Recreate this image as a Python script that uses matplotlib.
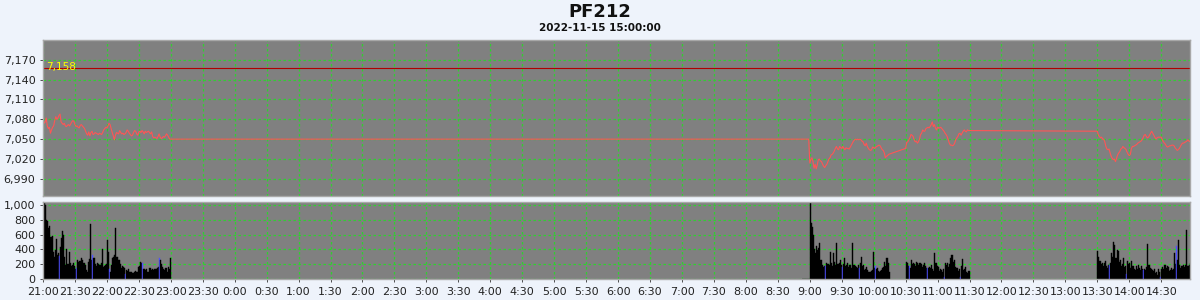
import matplotlib
matplotlib.use("Agg")
import matplotlib.pyplot as plt
import numpy as np

BG = "#eef3fb"
PANEL = "#808080"
GRID = "#30d030"
PRICE_RED = "#ff5555"
REF_RED = "#b00000"
BLUE = "#5050ff"
EDGE = "#a8a8a8"

TITLE = "PF212"
SUBTITLE = "2022-11-15 15:00:00"
PREV_CLOSE = 7158

# session starts, minutes after 21:00
NIGHT_START = 0
PRE_START = 713      # 8:53
AM1_START = 720      # 9:00
AM2_START = 810      # 10:30
PM_START = 990       # 13:30

night_price = [
    7080, 7074, 7076, 7082, 7070, 7066, 7068, 7059, 7064, 7068,
    7070, 7078, 7084, 7080, 7082, 7086, 7088, 7076, 7074, 7072,
    7074, 7070, 7069, 7071, 7072, 7070, 7073, 7076, 7078, 7077,
    7072, 7069, 7070, 7068, 7067, 7071, 7072, 7070, 7068, 7066,
    7062, 7058, 7056, 7061, 7055, 7060, 7062, 7057, 7058, 7060,
    7059, 7058, 7057, 7059, 7058, 7057, 7060, 7064, 7066, 7068,
    7067, 7070, 7074, 7072, 7066, 7060, 7055, 7049, 7056, 7060,
    7059, 7058, 7063, 7060, 7058, 7059, 7057, 7058, 7060, 7064,
    7062, 7059, 7057, 7055, 7056, 7060, 7063, 7062, 7058, 7056,
    7061, 7062, 7060, 7063, 7061, 7058, 7062, 7060, 7061, 7062,
    7060, 7058, 7061, 7054, 7052, 7053, 7052, 7051, 7054, 7058,
    7053, 7051, 7052, 7054, 7053, 7055, 7058, 7056, 7053, 7050,
]
night_vol = [
    1030, 1020, 1000, 800, 783, 690, 710, 570, 580, 370,
    300, 390, 540, 330, 350, 315, 430, 560, 650, 590,
    300, 190, 410, 200, 370, 210, 180, 190, 210, 170,
    140, 153, 250, 230, 240, 245, 290, 260, 210, 190,
    120, 100, 235, 270, 740, 260, 330, 290, 280, 200,
    180, 220, 200, 190, 210, 400, 160, 170, 190, 200,
    530, 370, 140, 100, 190, 280, 300, 330, 690, 300,
    250, 260, 200, 150, 170, 165, 145, 70, 120, 110,
    130, 90, 100, 100, 80, 90, 110, 100, 100, 165,
    180, 235, 210, 210, 135, 130, 120, 140, 100, 90,
    150, 120, 135, 115, 140, 135, 130, 155, 160, 280,
    255, 200, 165, 130, 120, 150, 100, 165, 140, 290,
]
night_blue = [15, 31, 46, 62, 77, 93, 109]

pre_price = [7050, 7050, 7050, 7050, 7050, 7050, 7050]
pre_vol = [6, 6, 6, 6, 6, 6, 6]

am1_price = [
    7014, 7019, 7022, 7016, 7006, 7012, 7005, 7011, 7019, 7020,
    7017, 7016, 7012, 7009, 7007, 7010, 7012, 7016, 7020, 7022,
    7026, 7027, 7029, 7032, 7036, 7039, 7035, 7034, 7039, 7037,
    7036, 7039, 7036, 7034, 7037, 7036, 7036, 7035, 7038, 7041,
    7044, 7047, 7049, 7050, 7049, 7050, 7049, 7050, 7049, 7047,
    7046, 7042, 7040, 7044, 7039, 7036, 7034, 7033, 7034, 7038,
    7037, 7036, 7038, 7039, 7040, 7041, 7040, 7037, 7034, 7033,
    7029, 7022, 7024, 7025, 7027,
]
am1_vol = [
    1040, 760, 700, 590, 410, 345, 440, 390, 420, 480,
    260, 190, 165, 180, 175, 210, 200, 205, 190, 370,
    210, 180, 345, 235, 190, 480, 200, 210, 255, 190,
    165, 200, 280, 170, 190, 210, 160, 190, 190, 150,
    490, 190, 170, 165, 150, 190, 145, 210, 300, 170,
    190, 120, 140, 165, 120, 100, 100, 110, 120, 370,
    150, 175, 130, 145, 110, 100, 110, 120, 150, 165,
    235, 180, 280, 210, 100,
]
am1_blue = [14, 30, 46, 61]

am2_price = [
    7036, 7045, 7046, 7049, 7052, 7057, 7056, 7054, 7049, 7046,
    7047, 7044, 7046, 7050, 7057, 7059, 7064, 7062, 7062, 7066,
    7067, 7068, 7067, 7069, 7072, 7076, 7069, 7072, 7067, 7064,
    7068, 7067, 7067, 7068, 7066, 7064, 7062, 7059, 7057, 7054,
    7049, 7044, 7041, 7041, 7040, 7041, 7044, 7049, 7052, 7054,
    7058, 7059, 7056, 7059, 7062, 7064, 7062, 7061, 7064, 7063,
]
am2_vol = [
    235, 210, 170, 180, 150, 255, 200, 220, 200, 170,
    235, 210, 190, 220, 200, 160, 190, 210, 170, 150,
    150, 145, 165, 150, 190, 130, 110, 345, 210, 180,
    165, 110, 140, 120, 100, 130, 22, 210, 190, 220,
    165, 200, 290, 325, 230, 255, 165, 150, 145, 110,
    130, 22, 180, 265, 120, 140, 165, 100, 80, 110,
]
am2_blue = [3, 20, 36, 51]

pm_price = [
    7062, 7056, 7054, 7052, 7053, 7050, 7050, 7046, 7039, 7035,
    7034, 7035, 7029, 7024, 7021, 7019, 7020, 7016, 7021, 7026,
    7029, 7031, 7035, 7036, 7039, 7037, 7036, 7034, 7030, 7027,
    7025, 7027, 7036, 7039, 7039, 7040, 7041, 7042, 7044, 7045,
    7046, 7047, 7049, 7052, 7056, 7057, 7054, 7052, 7053, 7056,
    7059, 7062, 7059, 7056, 7053, 7050, 7052, 7053, 7053, 7053,
    7053, 7049, 7046, 7044, 7042, 7039, 7038, 7039, 7040, 7040,
    7041, 7041, 7040, 7037, 7035, 7033, 7034, 7036, 7039, 7042,
    7044, 7044, 7045, 7046, 7047, 7049, 7047, 7046, 7047, 7045,
]
pm_vol = [
    380, 300, 240, 200, 215, 170, 210, 240, 170, 150,
    195, 185, 220, 350, 300, 500, 465, 280, 395, 375,
    230, 260, 170, 200, 285, 160, 170, 68, 240, 200,
    215, 150, 240, 170, 140, 125, 170, 130, 195, 150,
    120, 170, 130, 125, 140, 125, 160, 475, 195, 150,
    140, 125, 110, 140, 80, 100, 60, 140, 100, 23,
    140, 160, 130, 195, 150, 170, 160, 110, 125, 150,
    120, 140, 350, 200, 440, 250, 530, 195, 150, 170,
    185, 160, 195, 665, 170, 180, 195, 215, 150, 365,
]
pm_blue = [11, 27, 43, 59, 74, 89]

SESSIONS = [
    (NIGHT_START, night_price, night_vol, night_blue),
    (PRE_START, pre_price, pre_vol, []),
    (AM1_START, am1_price, am1_vol, am1_blue),
    (AM2_START, am2_price, am2_vol, am2_blue),
    (PM_START, pm_price, pm_vol, pm_blue),
]

PRICE_TICKS = [6990, 7020, 7050, 7080, 7110, 7140, 7170]
VOL_TICKS = [0, 200, 400, 600, 800, 1000]
X_END = 1077


def time_label(m):
    h = (21 + m // 60) % 24
    return f"{h}:{m % 60:02d}"


def style_axis(ax):
    ax.set_facecolor(PANEL)
    ax.grid(True, color=GRID, linestyle=(0, (2, 2)), lw=0.9)
    ax.set_axisbelow(True)
    for s in ax.spines.values():
        s.set_edgecolor(EDGE)
        s.set_linewidth(1.0)
    ax.tick_params(colors="#333333", labelsize=8, length=2, width=0.6,
                   labelcolor="#222222")


fig = plt.figure(figsize=(12, 3), dpi=100)
fig.patch.set_facecolor(BG)
ax_p = fig.add_axes([43 / 1200, 1 - 196 / 300, 1147 / 1200, 156 / 300])
ax_v = fig.add_axes([43 / 1200, 1 - 279 / 300, 1147 / 1200, 77 / 300])

# price line (all sessions joined, gaps drawn straight)
xs = [NIGHT_START]
ys = [PREV_CLOSE]
for start, price, vol, blue in SESSIONS:
    xs += [start + i for i in range(len(price))]
    ys += price
style_axis(ax_p)
ax_p.plot(xs, ys, color=PRICE_RED, lw=0.8)
ax_p.axhline(PREV_CLOSE, color=REF_RED, lw=0.8)
ax_p.text(3, PREV_CLOSE + 1, f"{PREV_CLOSE:,}", color="#ffff00",
          fontsize=7.5, va="center", ha="left")
ax_p.set_ylim(6964, 7200)
ax_p.set_yticks(PRICE_TICKS)
ax_p.set_yticklabels([f"{v:,}" for v in PRICE_TICKS])

# volume bars
style_axis(ax_v)
for start, price, vol, blue in SESSIONS:
    bx = np.arange(len(vol)) + start
    colors = ["#000000"] * len(vol)
    for b in blue:
        colors[b] = BLUE
    ax_v.bar(bx, vol, width=1.0, color=colors, align="edge",
             edgecolor=colors, linewidth=0.3)
ax_v.set_ylim(0, 1040)
ax_v.set_yticks(VOL_TICKS)
ax_v.set_yticklabels([f"{v:,}" for v in VOL_TICKS])

xticks = list(range(0, X_END, 30))
for ax in (ax_p, ax_v):
    ax.set_xlim(0, X_END)
    ax.set_xticks(xticks)
ax_p.tick_params(labelbottom=False, bottom=False)
ax_v.set_xticklabels([time_label(m) for m in xticks])

fig.text(0.5, 1 - 12 / 300, TITLE, ha="center", va="center",
         fontsize=13, fontweight="bold", color="#111111")
fig.text(0.5, 1 - 28 / 300, SUBTITLE, ha="center", va="center",
         fontsize=7.5, fontweight="bold", color="#111111")

fig.savefig("out.png", dpi=100, facecolor=BG)
plt.close(fig)
